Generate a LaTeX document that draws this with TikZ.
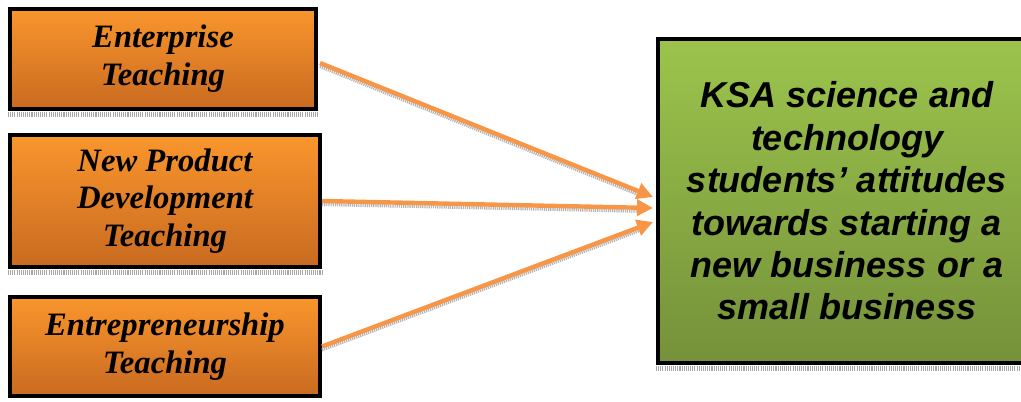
\documentclass[tikz,border=0pt]{standalone}
\usepackage{fontspec}
\setmainfont{Liberation Serif}
\newfontfamily\sansbold{Liberation Sans}
\usetikzlibrary{arrows.meta}
\definecolor{orTop}{RGB}{250,150,45}
\definecolor{orBot}{RGB}{200,106,32}
\definecolor{grTop}{RGB}{156,196,76}
\definecolor{grBot}{RGB}{117,145,58}
\definecolor{arrowOr}{RGB}{247,150,70}
\tikzset{
  causebox/.style={draw=black, line width=3pt, top color=orTop, bottom color=orBot,
    inner sep=0pt, align=center,
    font=\fontsize{24.5}{28.3}\selectfont\bfseries\itshape},
  effectbox/.style={draw=black, line width=3pt, top color=grTop, bottom color=grBot,
    inner sep=0pt, align=center,
    font=\sansbold\fontsize{27}{31.8}\selectfont\bfseries\itshape},
  hatch/.style={draw=gray!70, dash pattern=on 0.8pt off 0.8pt},
  link/.style={draw=arrowOr, line width=3.3pt,
    -{Triangle[length=12pt,width=12pt]}},
  linkshadow/.style={draw=gray!60, dash pattern=on 0.9pt off 0.7pt,
    line width=2.4pt, transform canvas={yshift=-2.6pt}, shorten >=8pt}
}
\begin{document}
\begin{tikzpicture}[x=0.75pt,y=-0.75pt]
\useasboundingbox (0,0) rectangle (1021,401);
\clip (0,0) rectangle (1021,401);

% box shadows
\draw[hatch, line width=3.2pt] (8,114.5) -- (318,114.5);
\draw[hatch, line width=3.2pt] (8,272.5) -- (322,272.5);
\draw[hatch, line width=3.2pt] (656,368.5) -- (1040,368.5);

% cause boxes
\node[causebox, minimum width=229.5pt, minimum height=75pt] (b1) at (163,59)
  {Enterprise\\Teaching};
\node[causebox, minimum width=232.5pt, minimum height=99pt] (b2) at (165,201)
  {New Product\\Development\\Teaching};
\node[causebox, minimum width=232.5pt, minimum height=74.25pt] (b3) at (165,346.5)
  {Entrepreneurship\\Teaching};

% outcome box
\node[effectbox, minimum width=283.5pt, minimum height=243pt] (k) at (847,201)
  {KSA science and\\technology\\students’ attitudes\\towards starting a\\new business or a\\small business};

% arrow end points at the outcome box
\coordinate (t1) at (653,197);
\coordinate (t2) at (653,208);
\coordinate (t3) at (653,222);
\coordinate (s1) at (320,63);

% connectors with their hatched shadows
\draw[linkshadow] (s1) -- (t1);
\draw[linkshadow] (b2.east) -- (t2);
\draw[linkshadow] (b3.east) -- (t3);
\draw[link] (s1) -- (t1);
\draw[link] (b2.east) -- (t2);
\draw[link] (b3.east) -- (t3);
\end{tikzpicture}
\end{document}
